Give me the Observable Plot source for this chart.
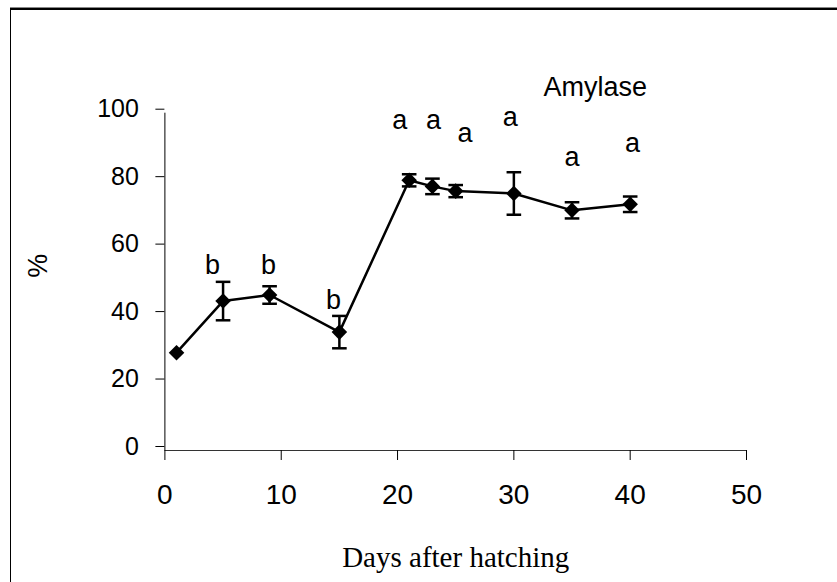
<!DOCTYPE html>
<html>
<head>
<meta charset="utf-8">
<script src="https://cdn.jsdelivr.net/npm/d3@7"></script>
<script src="https://cdn.jsdelivr.net/npm/@observablehq/plot@0.6"></script>
<style>
  html, body { margin: 0; padding: 0; background: #fff; }
  #wrap { position: relative; width: 837px; height: 582px; overflow: hidden; }
  #wrap svg { position: absolute; left: 0; top: 0; }
  .edge-top-shadow { position: absolute; left: 10px; top: 7px; width: 827px; height: 1px; background: #888; }
  .edge-top { position: absolute; left: 10px; top: 8px; width: 827px; height: 1.5px; background: #000; }
  .edge-left { position: absolute; left: 9.5px; top: 8px; width: 1.5px; height: 574px; background: #000; }
</style>
</head>
<body>
<div id="wrap">
  <div class="edge-top-shadow"></div>
  <div class="edge-top"></div>
  <div class="edge-left"></div>
</div>
<script>
// Data
const days  = [1, 5, 9, 15, 21, 23, 25, 30, 35, 40];
const means = [29.0, 44.3, 46.1, 35.1, 80.1, 78.3, 76.9, 76.2, 71.2, 73.0];
const errs  = [0, 5.7, 2.6, 4.8, 1.8, 2.3, 1.8, 6.3, 2.4, 2.3];

// significance letters (annotation positions in data units)
const letterText = ["b", "b", "b", "a", "a", "a", "a", "a", "a"];
const letterDay  = [4.1, 8.9, 14.5, 20.2, 23.1, 25.8, 29.7, 35.0, 40.2];
const letterVal  = [54.9, 54.9, 44.5, 97.9, 97.9, 94.0, 98.7, 86.9, 91.0];

const seriesLabel = "Amylase";
const seriesLabelDay = 37.0;
const seriesLabelVal = 107.8;

const xTicks = [0, 10, 20, 30, 40, 50];
const yTicks = [0, 20, 40, 60, 80, 100];
const xTitle = "Days after hatching";
const yTitle = "%";

const points = days.map((d, i) => ({day: d, mean: means[i], err: errs[i]}));
const withErr = points.filter(p => p.err > 0);
const letters = letterText.map((t, i) => ({t, day: letterDay[i], v: letterVal[i]}));

const cap = {
  draw(context) {
    const w = 7.3;
    context.moveTo(-w, 0);
    context.lineTo(w, 0);
  }
};

const sans = "'Liberation Sans', Arial, sans-serif";

const chart = Plot.plot({
  width: 837,
  height: 582,
  marginLeft: 164.4,
  marginRight: 91,
  marginTop: 112.7,
  marginBottom: 132,
  style: {background: "transparent", color: "#000", fontFamily: sans},
  x: {domain: [0, 50], ticks: xTicks, label: null},
  y: {domain: [0, 100], ticks: yTicks, label: null},
  marks: [
    Plot.ruleY([0], {stroke: "#333", strokeWidth: 1}),
    Plot.ruleX([0], {stroke: "#000", strokeWidth: 1}),
    Plot.axisX({ticks: xTicks, tickSize: 10, tickPadding: 24, fontSize: 28, label: null, stroke: "#000"}),
    Plot.axisY({ticks: yTicks, tickSize: 9, tickPadding: 17, fontSize: 25, dy: -4, label: null, stroke: "#000"}),
    Plot.ruleX(withErr, {x: "day", y1: d => d.mean - d.err, y2: d => d.mean + d.err, stroke: "#000", strokeWidth: 2.5}),
    Plot.dot(withErr, {x: "day", y: d => d.mean + d.err, symbol: cap, r: 5, stroke: "#000", strokeWidth: 2.5, fill: "none"}),
    Plot.dot(withErr, {x: "day", y: d => d.mean - d.err, symbol: cap, r: 5, stroke: "#000", strokeWidth: 2.5, fill: "none"}),
    Plot.line(points, {x: "day", y: "mean", stroke: "#000", strokeWidth: 2.5}),
    Plot.dot(points, {x: "day", y: "mean", symbol: "diamond2", r: 7, fill: "#000", stroke: "none"}),
    Plot.text(letters, {x: "day", y: "v", text: "t", fontSize: 27, fill: "#000", lineAnchor: "middle"}),
    Plot.text([seriesLabel], {x: () => seriesLabelDay, y: () => seriesLabelVal, text: d => d, fontSize: 27, fill: "#000", lineAnchor: "middle"}),
    Plot.text([yTitle], {frameAnchor: "left", dx: -127, dy: -4, rotate: -90, text: d => d, fontSize: 27, fill: "#000"}),
    Plot.text([xTitle], {frameAnchor: "bottom", dy: 107, text: d => d, fontSize: 29, fontFamily: "'Liberation Serif', 'Times New Roman', serif", fill: "#000", lineAnchor: "middle"})
  ]
});
document.getElementById("wrap").appendChild(chart);
</script>
</body>
</html>
